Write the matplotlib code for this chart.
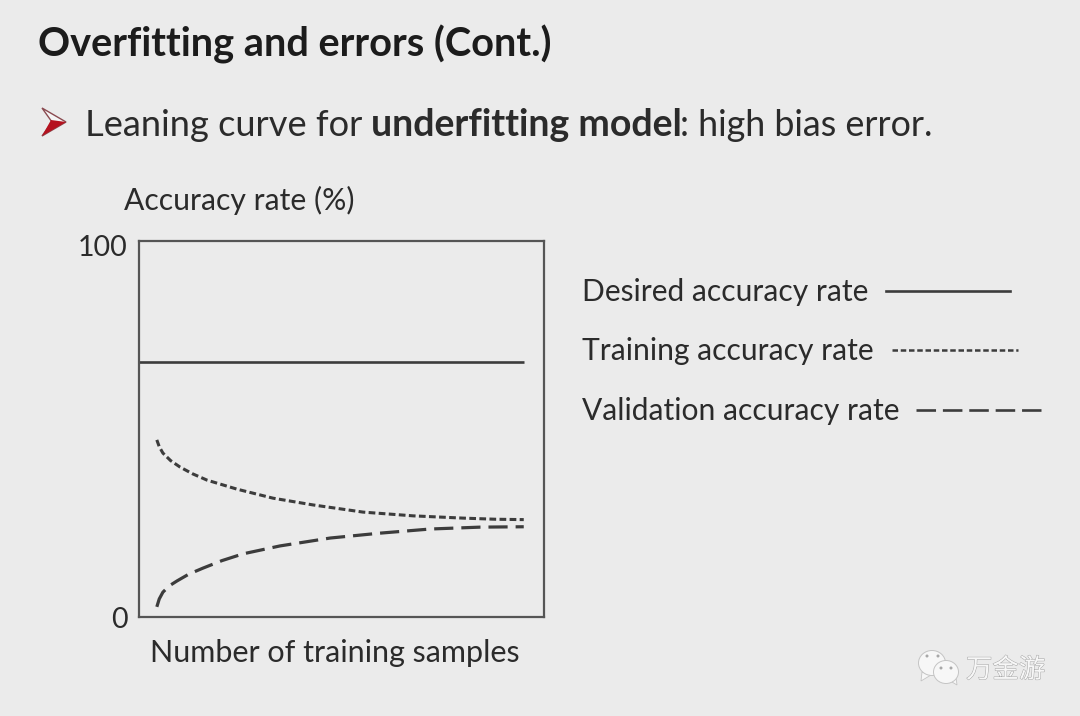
import matplotlib
matplotlib.use("Agg")
import matplotlib.patheffects as pe
import matplotlib.pyplot as plt
from matplotlib.lines import Line2D
from matplotlib.patches import Ellipse, Polygon
from matplotlib.transforms import ScaledTranslation

W, H = 1080, 716
BG = "#ebebeb"
INK = "#2b2b2b"
LINE = "#3c3c3c"

title = "Overfitting and errors (Cont.)"
bullet_parts = [("Leaning curve for", "normal", 26.1, 85), ("underfitting model", "bold", 27, 371),
                (": high bias error.", "normal", 25.8, 680)]
y_label = "Accuracy rate (%)"
x_label = "Number of training samples"
y_ticks = [0, 100]

desired_x = [0, 95]
desired_y = [67.8, 67.8]
train_x = [4.4, 5.0, 5.9, 7.8, 10.1, 13.2, 16.8, 24.2, 33.1, 43.0, 55.3, 67.7, 80.0, 88.0, 95.0]
train_y = [47.1, 45.3, 43.6, 41.6, 39.9, 38.1, 36.4, 34.0, 31.6, 29.8, 27.9, 26.9, 26.3, 26.0, 25.9]
valid_x = [4.4, 5.0, 5.9, 7.5, 9.4, 12.3, 15.8, 20.5, 25.7, 34.8, 47.2, 59.5, 71.9, 84.2, 95.0]
valid_y = [2.7, 4.8, 6.6, 8.3, 9.6, 11.4, 13.0, 15.0, 16.8, 18.9, 21.0, 22.3, 23.4, 23.9, 24.0]

legend_labels = ["Desired accuracy rate", "Training accuracy rate", "Validation accuracy rate"]
watermark = "万金游"

plt.rcParams["font.family"] = ["Lato", "DejaVu Sans"]
fig = plt.figure(figsize=(W / 100, H / 100), dpi=100, facecolor=BG)


def fx(px):
    return px / W


def fy(py):
    return 1 - py / H


# plot box
ax = fig.add_axes([fx(139), fy(617), 405 / W, 376 / H], facecolor=BG)
ax.set_xlim(0, 100)
ax.set_ylim(0, 100)
ax.set_xticks([])
ax.set_yticks(y_ticks)
ax.set_yticklabels([str(t) for t in y_ticks], fontsize=20.5, color=INK)
ax.tick_params(axis="y", length=0, pad=8)
# the "100" sits a little below the top of the box in the slide
top_label = ax.get_yticklabels()[1]
top_label.set_transform(top_label.get_transform() + ScaledTranslation(0, -5 / 100, fig.dpi_scale_trans))
for side in ax.spines.values():
    side.set_linewidth(1.6)
    side.set_color("#555555")

ax.plot(desired_x, desired_y, color=LINE, lw=1.9, solid_capstyle="butt")
ax.plot(train_x, train_y, color=LINE, lw=2.2, ls=(0, (2.2, 1.1)))
ax.plot(valid_x, valid_y, color=LINE, lw=2.3, ls=(0, (6.0, 2.5)))

# heading and bullet
fig.text(fx(38), fy(44), title, fontsize=28.6, fontweight="bold", color="#1c1c1c", va="center")

for part, weight, size, px in bullet_parts:
    fig.text(fx(px), fy(136), part, fontsize=size, fontweight=weight, color=INK, va="baseline")

fig.add_artist(Polygon([(fx(42), fy(108)), (fx(66), fy(122)), (fx(42), fy(136)), (fx(52), fy(122))],
                       closed=True, facecolor="#f4f4f4", edgecolor="#8a4a50", lw=1, transform=fig.transFigure))
fig.add_artist(Polygon([(fx(42), fy(136)), (fx(66), fy(122)), (fx(51), fy(120))],
                       closed=True, facecolor="#b5121f", edgecolor="none", transform=fig.transFigure))

# axis captions
fig.text(fx(124), fy(200), y_label, fontsize=21.7, color=INK, va="center")
fig.text(fx(150), fy(653), x_label, fontsize=22, color=INK, va="center")

# hand drawn legend
legend_y = [291, 350, 410]
text_y = [292, 351, 411]
line_spans = [(886, 1010), (892, 1018), (916, 1041)]
styles = [("-", 1.9), ((0, (2.2, 1.1)), 1.8), ((0, (7.4, 2.6)), 1.9)]
for label, py, ty, span, (ls, lw) in zip(legend_labels, legend_y, text_y, line_spans, styles):
    fig.text(fx(582), fy(ty), label, fontsize=21.6, color=INK, va="center")
    fig.add_artist(Line2D([fx(span[0]), fx(span[1])], [fy(py), fy(py)], color=LINE, ls=ls, lw=lw,
                          transform=fig.transFigure))

# watermark: two chat bubbles and the account name
bubbles = [((932, 663), 27, 25, [(922, 672), (921, 681), (931, 675)]),
           ((946, 672), 25, 23, [(952, 682), (957, 685), (956, 677)])]
for (cx, cy), w, h, tail in bubbles:
    fig.add_artist(Polygon([(fx(a), fy(b)) for a, b in tail], closed=True, facecolor="#f7f7f7", edgecolor="#c4c4c4",
                           lw=0.6, transform=fig.transFigure))
    fig.add_artist(Ellipse((fx(cx), fy(cy)), w / W, h / H, facecolor="#f7f7f7", edgecolor="#c4c4c4", lw=0.7,
                           transform=fig.transFigure))
for ex, ey in [(927, 656), (938, 656), (941, 668), (951, 668)]:
    fig.add_artist(Ellipse((fx(ex), fy(ey)), 3 / W, 3 / H, facecolor="#a8a8a8", edgecolor="none",
                           transform=fig.transFigure))
fig.text(fx(966), fy(670), watermark, fontsize=19, family=["Noto Sans CJK SC", "DejaVu Sans"],
         color="#f7f7f7", va="center", path_effects=[pe.withStroke(linewidth=0.7, foreground="#a5a5a5")])

fig.savefig("out.png", dpi=100, facecolor=BG)
